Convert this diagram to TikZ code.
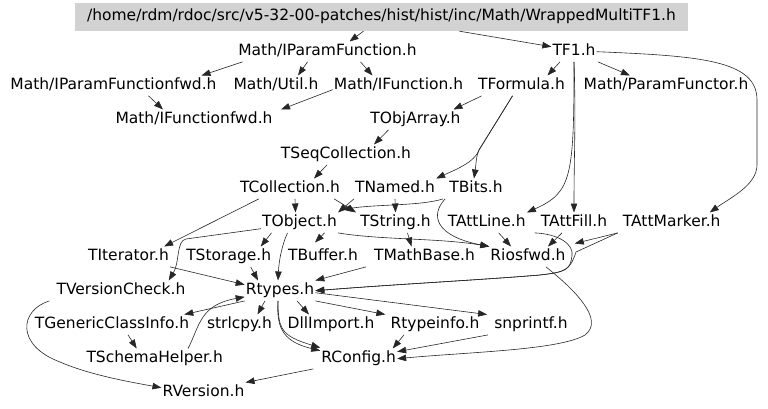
\documentclass[tikz,border=0pt]{standalone}
\usepackage{fontspec}
\newfontfamily\graphfont{DejaVu Sans}
\usetikzlibrary{arrows.meta,positioning}

\begin{document}
\begin{tikzpicture}[
    x=1pt, y=-1pt,
    >={Stealth[length=9pt,width=6.5pt,inset=0pt]},
    file/.style={inner sep=1pt, minimum height=20pt, text height=11.5pt, text depth=3.5pt, font=\graphfont\fontsize{15.5}{18}\selectfont},
    rootfile/.style={file, fill=gray!35, minimum width=613pt, minimum height=28pt},
    dep/.style={->, line width=0.6pt, draw=black!85}
]
\useasboundingbox (0,0) rectangle (768,409);

% ── Root header ──
\node[rootfile] (root) at (381.5,17) {/home/rdm/rdoc/src/v5-32-00-patches/hist/hist/inc/Math/WrappedMultiTF1.h};

% ── Math headers ──
\node[file] (iparamfn) at (327.5,51.7) {Math/IParamFunction.h};
\node[file] (tfone) at (574,51.7) {TF1.h};
\node[file] (iparamfwd) at (113.5,85.7) {Math/IParamFunctionfwd.h};
\node[file] (mathutil) at (276,85.7) {Math/Util.h};
\node[file] (ifunction) at (398.5,85.7) {Math/IFunction.h};
\node[file] (tformula) at (521.5,85.7) {TFormula.h};
\node[file] (paramfunctor) at (666,85.7) {Math/ParamFunctor.h};
\node[file] (ifuncfwd) at (194,119.7) {Math/IFunctionfwd.h};
\node[file] (tobjarray) at (415.5,119.7) {TObjArray.h};

% ── Containers and base classes ──
\node[file] (tseqcoll) at (346,154.7) {TSeqCollection.h};
\node[file] (tcoll) at (290,188.7) {TCollection.h};
\node[file] (tnamed) at (395,188.7) {TNamed.h};
\node[file] (tbits) at (476,188.7) {TBits.h};
\node[file] (tobject) at (299.5,222.7) {TObject.h};
\node[file] (tstring) at (395.5,222.7) {TString.h};
\node[file] (tattline) at (486.7,222.7) {TAttLine.h};
\node[file] (tattfill) at (574,222.7) {TAttFill.h};
\node[file] (tattmarker) at (671.7,222.7) {TAttMarker.h};
\node[file] (titerator) at (128.5,256.7) {TIterator.h};
\node[file] (tstorage) at (228.7,256.7) {TStorage.h};
\node[file] (tbuffer) at (323,256.7) {TBuffer.h};
\node[file] (tmathbase) at (424.5,256.7) {TMathBase.h};
\node[file] (riosfwd) at (528,256.7) {Riosfwd.h};

% ── Core headers ──
\node[file] (tversioncheck) at (121,290.7) {TVersionCheck.h};
\node[file] (rtypes) at (280,290.7) {Rtypes.h};
\node[file] (tgenclass) at (112,324.7) {TGenericClassInfo.h};
\node[file] (strlcpy) at (239.5,324.7) {strlcpy.h};
\node[file] (dllimport) at (331,324.7) {DllImport.h};
\node[file] (rtypeinfo) at (435,324.7) {Rtypeinfo.h};
\node[file] (snprintf) at (531,324.7) {snprintf.h};
\node[file] (tschema) at (154.7,358.7) {TSchemaHelper.h};
\node[file] (rconfig) at (358.7,358.7) {RConfig.h};
\node[file] (rversion) at (203.5,392.7) {RVersion.h};

% ════════════════════════════════════
% INCLUDE EDGES
% ════════════════════════════════════

% root
\draw[dep] ([xshift=-18pt]root.south) -- ([xshift=22pt]iparamfn.north);
\draw[dep] ([xshift=78pt]root.south) -- ([yshift=5pt]tfone.west);

% Math/IParamFunction.h
\draw[dep] ([xshift=-85pt]iparamfn.south) -- ([xshift=88pt]iparamfwd.north);
\draw[dep] ([xshift=-20pt]iparamfn.south) -- ([xshift=22pt]mathutil.north);
\draw[dep] ([xshift=33pt]iparamfn.south) -- ([xshift=-26pt]ifunction.north);
\draw[dep] ([xshift=35pt]iparamfwd.south) -- ([xshift=-31pt]ifuncfwd.north);
\draw[dep] ([yshift=-4pt]ifunction.west) -- ([xshift=87pt]ifuncfwd.north);

% TF1.h
\draw[dep] ([xshift=-14pt]tfone.south) -- ([xshift=26pt]tformula.north);
\draw[dep] ([xshift=24pt]tfone.south) -- ([xshift=-36pt]paramfunctor.north);
\draw[dep] (tfone.south) .. controls +(2,60) and +(0,-60) .. (tattfill.north);
\draw[dep] (tfone.south) .. controls +(0,115) and +(45,-20) .. (tattline.north east);
\draw[dep] (tfone.east) .. controls (700,56) and (757,60) .. (757,100) -- (757,165)
  .. controls (757,185) and (730,198) .. ([xshift=-12pt]tattmarker.north east);

% TFormula.h
\draw[dep] ([xshift=-40pt]tformula.south) -- ([xshift=38pt]tobjarray.north);
\draw[dep] ([xshift=-9pt]tformula.south) -- (479,150)
  .. controls (476,156) and (476,165) .. ([xshift=-2pt]tbits.north);
\draw[dep] ([xshift=-9pt]tformula.south) -- (479,150)
  .. controls (475,162) and (455,170) .. (tnamed.north east);

% collections
\draw[dep] ([xshift=-27pt]tobjarray.south) -- ([xshift=28pt]tseqcoll.north);
\draw[dep] ([xshift=-19pt]tseqcoll.south) -- ([xshift=24pt]tcoll.north);
\draw[dep] ([xshift=5pt]tcoll.south) -- ([xshift=-4pt]tobject.north);
\draw[dep] ([xshift=20pt]tcoll.south west) -- ([xshift=-6pt]titerator.north east);
\draw[dep] ([xshift=-7pt]tcoll.south east) -- ([xshift=-3pt]tstring.north west);

% TNamed.h, TBits.h
\draw[dep] (tnamed.south west) -- (tobject.north east);
\draw[dep] (tnamed.south) -- (tstring.north);
\draw[dep] ([xshift=-5pt]tbits.south west) .. controls (420,206) and (380,204) .. ([xshift=4pt,yshift=3pt]tobject.north east);
\draw[dep] ([xshift=-3pt]tbits.south west) .. controls (430,215) and (435,236) .. (riosfwd.north west);

% TObject.h, TString.h
\draw[dep] (tobject.south east) .. controls (380,240) and (440,238) .. (riosfwd.north west);
\draw[dep] ([xshift=12pt]tstring.south) -- ([xshift=-13pt]tmathbase.north);
\draw[dep] ([xshift=25pt]tobject.south) -- ([xshift=-8pt,yshift=4pt]tbuffer.north);
\draw[dep] ([xshift=-28pt]tobject.south) -- ([xshift=32pt]tstorage.north);
\draw[dep] ([xshift=-12pt]tobject.south) .. controls (282,245) and (279,260) .. ([xshift=-2pt]rtypes.north);
\draw[dep] ([yshift=-6pt]tobject.west) -- (186,239)
  .. controls (176,241) and (180,262) .. ([xshift=-18pt]tversioncheck.north east);

% into Rtypes.h
\draw[dep] (titerator.south east) -- ([yshift=6pt]rtypes.west);
\draw[dep] ([xshift=22pt]tstorage.south) -- ([xshift=-22pt]rtypes.north);
\draw[dep] ([xshift=-7pt]tmathbase.south west) -- (rtypes.north east);
\draw[dep] ([xshift=-5pt]tattfill.south west) .. controls (560,234) and (574,245) .. (572,256)
  .. controls (570,270) and (566,272) .. (540,275) .. controls (480,280) and (400,284) .. (rtypes.east);
\draw[dep] ([xshift=-4pt]tattmarker.south west) -- (576,252)
  .. controls (570,270) and (566,272) .. (540,275) .. controls (480,280) and (400,284) .. (rtypes.east);

% into Riosfwd.h
\draw[dep] ([xshift=-4pt]tattmarker.south west) -- ([xshift=8pt,yshift=3pt]riosfwd.north east);
\draw[dep] ([xshift=-12pt]tattfill.south) -- ([xshift=20pt]riosfwd.north);
\draw[dep] ([xshift=12pt]tattline.south) -- ([xshift=-17pt]riosfwd.north);
\draw[dep] ([xshift=18pt]riosfwd.south) .. controls (575,290) and (605,320) .. (585,335)
  .. controls (560,350) and (470,352) .. (rconfig.east);

% Rtypes.h
\draw[dep] (rtypes.south west) -- ([xshift=-6pt]tgenclass.north east);
\draw[dep] ([xshift=16pt]tgenclass.south) -- ([xshift=-18pt]tschema.north);
\draw[dep] ([xshift=-36pt]tschema.north east) .. controls (200,325) and (200,305) .. ([yshift=4pt]rtypes.south west);
\draw[dep] ([xshift=-15pt]rtypes.south) -- ([xshift=18pt]strlcpy.north);
\draw[dep] ([xshift=17pt]rtypes.south) -- ([xshift=-22pt]dllimport.north);
\draw[dep] (rtypes.south east) -- ([xshift=-4pt]rtypeinfo.north west);
\draw[dep] ([yshift=-2pt]rtypes.east) -- ([xshift=-6pt]snprintf.north west);
\draw[dep] ([xshift=-2pt]rtypes.south) .. controls (276,330) and (285,342) .. ([yshift=8pt]rconfig.west);
\draw[dep] ([xshift=-2pt]rtypes.south) .. controls (278,330) and (282,336) .. ([yshift=11pt]rconfig.west);

% RConfig.h, RVersion.h
\draw[dep] ([xshift=-31pt]rtypeinfo.south) -- ([xshift=34pt]rconfig.north);
\draw[dep] ([xshift=-43pt]snprintf.south) -- ([yshift=7pt]rconfig.east);
\draw[dep] ([xshift=-7pt]rconfig.south west) -- (rversion.north east);
\draw[dep] ([xshift=-6pt]tversioncheck.south west) .. controls (20,310) and (15,345) .. (60,362)
  .. controls (90,375) and (130,382) .. ([yshift=5pt]rversion.west);

\end{tikzpicture}
\end{document}
